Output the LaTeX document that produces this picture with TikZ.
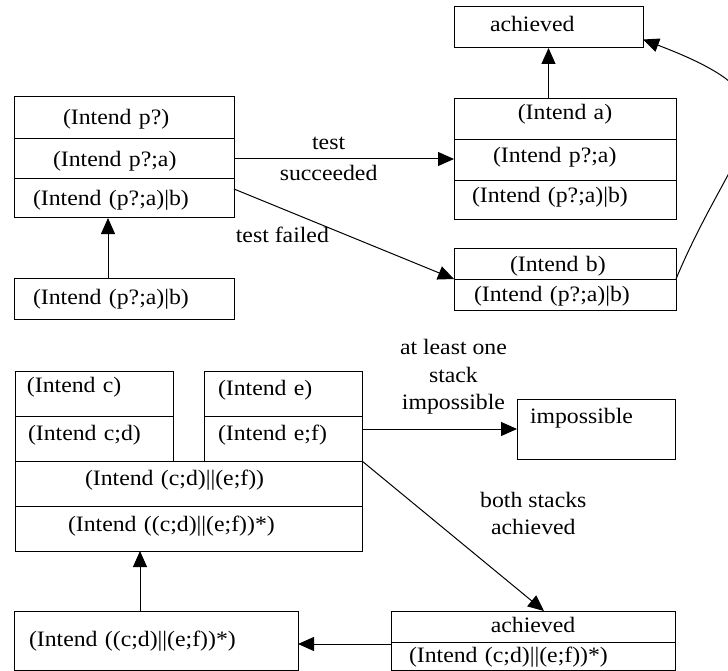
\documentclass[tikz,border=0pt]{standalone}
\usepackage{fontspec}
\setmainfont{Liberation Serif}[FakeStretch=1.08]
\usepackage{tikz}
\usetikzlibrary{arrows.meta,positioning}
\tikzset{
  intent cell/.style n args={4}{draw,line width=1pt,outer sep=0pt,inner ysep=0pt,
    inner xsep=#3,text width=#1-2*#3,minimum height=#2,align=left,
    text height=8.5pt+(#4),text depth=8.5pt-(#4)},
  intent flow/.style={line width=1pt,-{Triangle[length=16pt,width=14pt]}},
  intent note/.style={align=center,inner sep=1pt}
}

\begin{document}
\begin{tikzpicture}[x=1pt, y=-1pt, font=\fontsize{22pt}{27.5pt}\selectfont]
  \useasboundingbox (0,0) rectangle (728,671);

  \node[intent cell={220pt}{42pt}{49pt}{7pt}, anchor=north west] (tp1) at (14,97) {(Intend p?)};
  \node[intent cell={220pt}{40pt}{39pt}{8pt}, below=0pt of tp1] (tp2) {(Intend p?;a)};
  \node[intent cell={220pt}{39pt}{19pt}{7.5pt}, below=0pt of tp2] (tp3) {(Intend (p?;a)|b)};
  \node[intent cell={220pt}{41pt}{19pt}{5.5pt}, anchor=north west] (start) at (14,278) {(Intend (p?;a)|b)};

  \node[intent cell={189pt}{41pt}{36pt}{4pt}, anchor=north west] (done) at (454,7) {achieved};
  \node[intent cell={222pt}{41pt}{20pt}{0pt}, align=center, anchor=north west] (ia1) at (454,99) {(Intend a)};
  \node[intent cell={222pt}{41pt}{39pt}{2.5pt}, below=0pt of ia1] (ia2) {(Intend p?;a)};
  \node[intent cell={222pt}{39pt}{18pt}{2.5pt}, below=0pt of ia2] (ia3) {(Intend (p?;a)|b)};
  \node[intent cell={222pt}{31pt}{56pt}{8pt}, anchor=north west] (ib1) at (454,248) {(Intend b)};
  \node[intent cell={222pt}{31pt}{20pt}{7pt}, below=0pt of ib1] (ib2) {(Intend (p?;a)|b)};

  \node[intent cell={158pt}{45pt}{12pt}{-1pt}, anchor=north west] (c1) at (15,371) {(Intend c)};
  \node[intent cell={158pt}{45pt}{13pt}{1.5pt}, below=0pt of c1] (c2) {(Intend c;d)};
  \node[intent cell={158pt}{45pt}{14pt}{1.5pt}, anchor=north west] (e1) at (204,371) {(Intend e)};
  \node[intent cell={158pt}{45pt}{14pt}{1.5pt}, below=0pt of e1] (e2) {(Intend e;f)};
  \node[intent cell={347pt}{45pt}{70pt}{1.5pt}, anchor=north west] (par1) at (15,461) {(Intend (c;d)||(e;f))};
  \node[intent cell={347pt}{45pt}{53pt}{3pt}, below=0pt of par1] (par2) {(Intend ((c;d)||(e;f))*)};
  \node[intent cell={158pt}{60pt}{13pt}{-6pt}, anchor=north west] (fail) at (517,399) {impossible};
  \node[intent cell={284pt}{59pt}{15pt}{6pt}, anchor=north west] (loop) at (14,611) {(Intend ((c;d)||(e;f))*)};
  \node[intent cell={284pt}{31pt}{20pt}{6pt}, align=center, anchor=north west] (ok1) at (391,611) {achieved};
  \node[intent cell={284pt}{28pt}{18pt}{6pt}, below=0pt of ok1] (ok2) {(Intend (c;d)||(e;f))*)};

  \draw[intent flow] ([xshift=-16pt]start.north) -- ([xshift=-16pt]tp3.south);
  \draw[intent flow] (tp2.east) -- (tp2.east -| ia2.west)
    node[intent note, pos=0.43, above=8pt] {test} node[intent note, pos=0.43, below=5pt] {succeeded};
  \draw[intent flow] ([yshift=-10pt]tp3.north east) -- (ib1.south west)
    node[intent note, pos=0.22, below=17pt] {test failed};
  \draw[intent flow] (ia1.north -| done.south) -- (done.south);
  \draw[intent flow] (ib1.south east) .. controls +(62,-148) and +(168,64) .. ([yshift=-12pt]done.east);

  \draw[intent flow] (e2.east |- fail.west) -- (fail.west)
    node[intent note, pos=0.59, above=13pt] {at least one\\stack\\impossible};
  \draw[intent flow] (par1.north east) -- ([xshift=11pt]ok1.north)
    node[intent note, pos=0.35, right=53pt] {both stacks\\achieved};
  \draw[intent flow] ([yshift=-2pt]ok2.north west) -- ([yshift=-2pt]ok2.north west -| loop.east);
  \draw[intent flow] ([xshift=-16pt]loop.north) -- ([xshift=-16pt]loop.north |- par2.south);
\end{tikzpicture}
\end{document}
